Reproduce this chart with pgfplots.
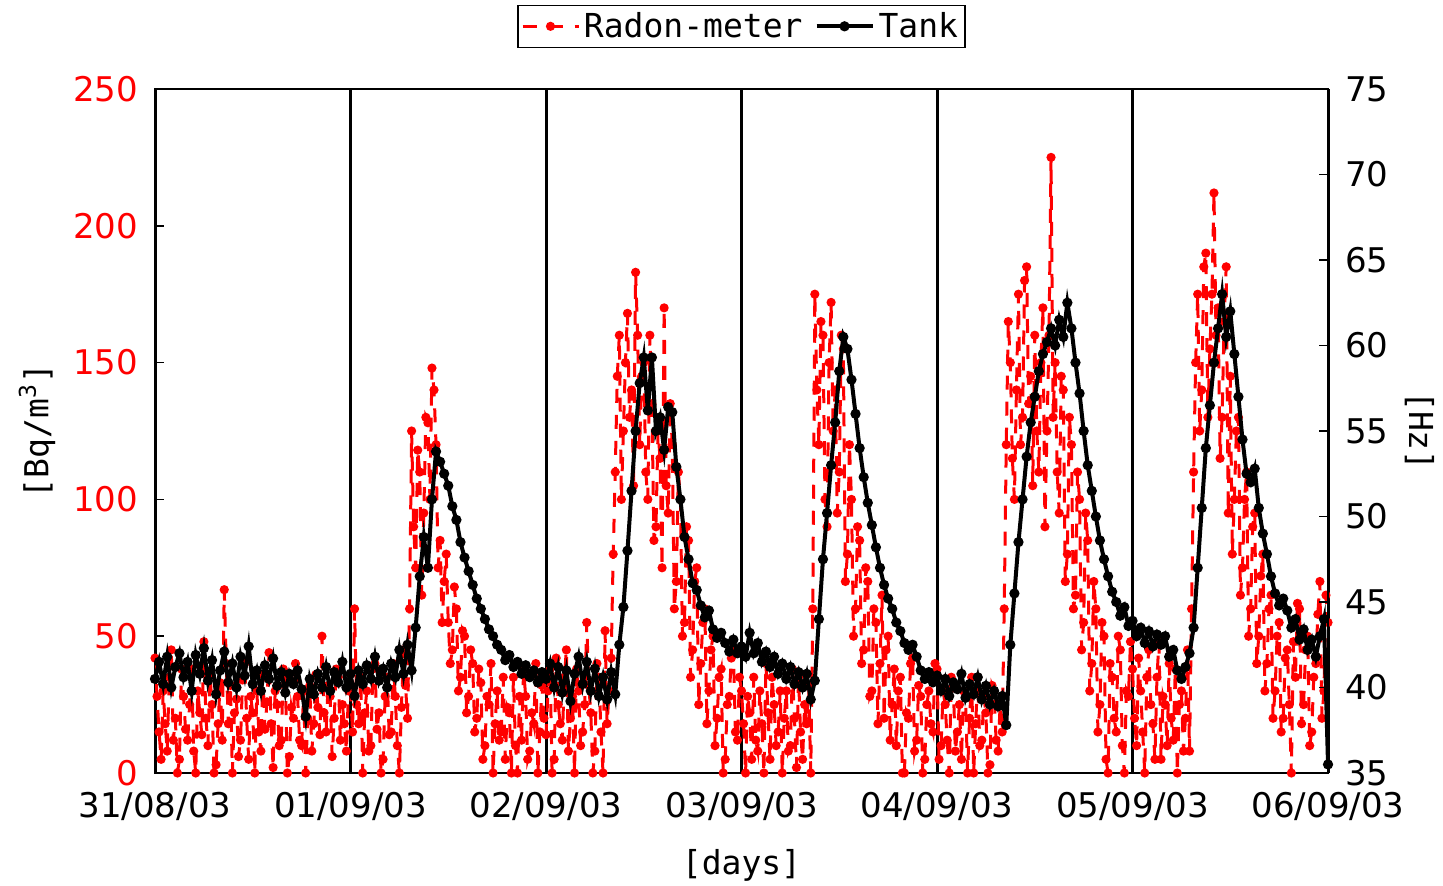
\documentclass[border=0pt]{standalone}
\usepackage{pgfplots}
\pgfplotsset{compat=1.18}
\usepackage{fontspec}
\setmainfont{DejaVu Sans}
\newfontfamily\monofont{DejaVu Sans Mono}
\begin{document}
\begin{tikzpicture}
\pgfplotsset{
  base/.style={scale only axis, width=586.5pt, height=342pt, xmin=0, xmax=144,
    /pgf/number format/assume math mode=true,
    tick label style={font=\fontsize{17}{20}\selectfont},
    label style={font=\monofont\fontsize{16.5}{20}\selectfont},
    axis line style={line width=0.8pt},
    major tick style={line width=0.8pt, black},
  },
  radonstyle/.style={red, line width=1.5pt, dash pattern=on 7pt off 6pt, mark=*, mark size=1.5pt, mark options={solid}},
}
\begin{axis}[base, ymin=0, ymax=250, ytick={0,50,...,250}, ytick pos=left,
  yticklabel style={red, xshift=-5pt},
  xtick={0,24,...,144},
  xticklabels={31/08/03,01/09/03,02/09/03,03/09/03,04/09/03,05/09/03,06/09/03},
  xticklabel style={yshift=-6pt},
  xtick style={draw=none},
  xmajorgrids, major x grid style={black, line width=1.5pt},
  xlabel={[days]}, xlabel style={at={(axis description cs:0.5,-0.1345)}, anchor=center},
  ylabel={[Bq/m\textsuperscript{3}]}, ylabel style={at={(axis description cs:-0.1006,0.5)}, anchor=center},
]
\addplot[radonstyle] coordinates {
(0,42)(0.25,28)(0.5,15)(0.75,5)(1,30)(1.25,18)(1.5,8)(1.75,35)(2,45)(2.25,12)(2.5,20)(2.75,0)(3,5)(3.25,38)(3.5,28)(3.75,16)
(4,12)(4.25,25)(4.5,38)(4.75,8)(5,0)(5.25,30)(5.5,22)(5.75,14)(6,48)(6.25,20)(6.5,10)(6.75,36)(7,25)(7.25,0)(7.5,3)(7.75,18)
(8,33)(8.25,12)(8.5,67)(8.75,40)(9,18)(9.25,32)(9.5,0)(9.75,22)(10,27)(10.25,6)(10.5,12)(10.75,34)(11,40)(11.25,20)(11.5,5)(11.75,28)
(12,22)(12.25,0)(12.5,30)(12.75,15)(13,8)(13.25,36)(13.5,16)(13.75,26)(14,44)(14.25,18)(14.5,2)(14.75,30)(15,25)(15.25,10)(15.5,12)(15.75,38)
(16,35)(16.25,0)(16.5,6)(16.75,24)(17,20)(17.25,40)(17.5,28)(17.75,12)(18,10)(18.25,30)(18.5,0)(18.75,20)(19,32)(19.25,8)(19.5,18)(19.75,36)
(20,24)(20.25,14)(20.5,50)(20.75,22)(21,15)(21.25,32)(21.5,28)(21.75,6)(22,20)(22.25,38)(22.5,35)(22.75,12)(23,25)(23.25,18)(23.5,8)(23.75,30)
(24,30)(24.25,15)(24.5,60)(24.75,25)(25,18)(25.25,35)(25.5,0)(25.75,22)(26,30)(26.25,8)(26.5,10)(26.75,38)(27,40)(27.25,16)(27.5,22)(27.75,0)
(28,5)(28.25,28)(28.5,35)(28.75,14)(29,15)(29.25,40)(29.5,28)(29.75,10)(30,0)(30.25,24)(30.5,45)(30.75,32)(31,20)(31.25,60)(31.5,125)(31.75,90)
(32,75)(32.25,118)(32.5,110)(32.75,65)(33,95)(33.25,130)(33.5,128)(33.75,100)(34,148)(34.25,140)(34.5,120)(34.75,75)(35,85)(35.25,55)(35.5,70)(35.75,80)
(36,55)(36.25,40)(36.5,45)(36.75,68)(37,60)(37.25,30)(37.5,35)(37.75,52)(38,50)(38.25,22)(38.5,28)(38.75,45)(39,40)(39.25,15)(39.5,20)(39.75,38)
(40,33)(40.25,5)(40.5,10)(40.75,28)(41,25)(41.25,40)(41.5,0)(41.75,18)(42,30)(42.25,12)(42.5,15)(42.75,35)(43,5)(43.25,24)(43.5,22)(43.75,0)
(44,35)(44.25,10)(44.5,0)(44.75,28)(45,12)(45.25,38)(45.5,28)(45.75,5)(46,8)(46.25,22)(46.5,18)(46.75,40)(47,0)(47.25,15)(47.5,32)(47.75,20)
(48,14)(48.25,30)(48.5,38)(48.75,0)(49,5)(49.25,42)(49.5,25)(49.75,18)(50,12)(50.25,35)(50.5,45)(50.75,8)(51,20)(51.25,28)(51.5,0)(51.75,38)
(52,30)(52.25,10)(52.5,15)(52.75,25)(53,55)(53.25,32)(53.5,22)(53.75,0)(54,8)(54.25,40)(54.5,35)(54.75,15)(55,0)(55.25,52)(55.5,18)(55.75,30)
(56,42)(56.25,80)(56.5,110)(56.75,145)(57,160)(57.25,100)(57.5,125)(57.75,150)(58,168)(58.25,130)(58.5,140)(58.75,105)(59,183)(59.25,160)(59.5,120)(59.75,145)
(60,150)(60.25,110)(60.5,100)(60.75,160)(61,135)(61.25,85)(61.5,90)(61.75,125)(62,115)(62.25,75)(62.5,170)(62.75,105)(63,95)(63.25,135)(63.5,120)(63.75,60)
(64,70)(64.25,110)(64.5,100)(64.75,50)(65,55)(65.25,90)(65.5,85)(65.75,35)(66,45)(66.25,70)(66.5,75)(66.75,25)(67,40)(67.25,55)(67.5,60)(67.75,18)
(68,30)(68.25,45)(68.5,50)(68.75,10)(69,20)(69.25,35)(69.5,38)(69.75,0)(70,5)(70.25,25)(70.5,28)(70.75,42)(71,45)(71.25,15)(71.5,12)(71.75,35)
(72,30)(72.25,18)(72.5,0)(72.75,28)(73,22)(73.25,5)(73.5,35)(73.75,12)(74,8)(74.25,30)(74.5,18)(74.75,0)(75,40)(75.25,22)(75.5,5)(75.75,35)
(76,25)(76.25,10)(76.5,15)(76.75,30)(77,0)(77.25,20)(77.5,30)(77.75,8)(78,10)(78.25,38)(78.5,20)(78.75,2)(79,35)(79.25,15)(79.5,5)(79.75,25)
(80,18)(80.25,32)(80.5,0)(80.75,60)(81,175)(81.25,140)(81.5,120)(81.75,165)(82,160)(82.25,100)(82.5,90)(82.75,150)(83,172)(83.25,125)(83.5,140)(83.75,95)
(84,110)(84.25,160)(84.5,155)(84.75,70)(85,80)(85.25,120)(85.5,100)(85.75,50)(86,60)(86.25,90)(86.5,85)(86.75,40)(87,45)(87.25,75)(87.5,70)(87.75,28)
(88,30)(88.25,60)(88.5,55)(88.75,18)(89,40)(89.25,65)(89.5,20)(89.75,45)(90,50)(90.25,12)(90.5,25)(90.75,38)(91,10)(91.25,30)(91.5,35)(91.75,0)
(92,0)(92.25,22)(92.5,20)(92.75,40)(93,42)(93.25,8)(93.5,12)(93.75,32)(94,28)(94.25,0)(94.5,5)(94.75,25)(95,30)(95.25,18)(95.5,15)(95.75,40)
(96,38)(96.25,5)(96.5,10)(96.75,30)(97,25)(97.25,12)(97.5,0)(97.75,35)(98,32)(98.25,8)(98.5,15)(98.75,25)(99,5)(99.25,30)(99.5,28)(99.75,0)
(100,20)(100.25,35)(100.5,0)(100.75,18)(101,35)(101.25,10)(101.5,12)(101.75,28)(102,22)(102.25,0)(102.5,3)(102.75,32)(103,30)(103.25,12)(103.5,8)(103.75,25)
(104,15)(104.25,60)(104.5,120)(104.75,165)(105,150)(105.25,115)(105.5,100)(105.75,140)(106,175)(106.25,120)(106.5,130)(106.75,180)(107,185)(107.25,135)(107.5,145)(107.75,105)
(108,160)(108.25,125)(108.5,110)(108.75,150)(109,170)(109.25,90)(109.5,125)(109.75,160)(110,225)(110.25,130)(110.5,150)(110.75,110)(111,95)(111.25,145)(111.5,140)(111.75,70)
(112,80)(112.25,130)(112.5,120)(112.75,60)(113,65)(113.25,110)(113.5,100)(113.75,45)(114,55)(114.25,95)(114.5,85)(114.75,30)(115,40)(115.25,70)(115.5,60)(115.75,15)
(116,25)(116.25,55)(116.5,50)(116.75,5)(117,0)(117.25,40)(117.5,35)(117.75,20)(118,15)(118.25,50)(118.5,45)(118.75,10)(119,0)(119.25,30)(119.5,28)(119.75,48)
(120,38)(120.25,20)(120.5,10)(120.75,42)(121,30)(121.25,15)(121.5,0)(121.75,35)(122,45)(122.25,25)(122.5,18)(122.75,5)(123,35)(123.25,48)(123.5,5)(123.75,28)
(124,25)(124.25,10)(124.5,40)(124.75,20)(125,12)(125.25,38)(125.5,0)(125.75,25)(126,30)(126.25,8)(126.5,20)(126.75,45)(127,8)(127.25,60)(127.5,110)(127.75,150)
(128,175)(128.25,125)(128.5,140)(128.75,185)(129,190)(129.25,130)(129.5,155)(129.75,175)(130,212)(130.25,160)(130.5,170)(130.75,115)(131,130)(131.25,165)(131.5,185)(131.75,95)
(132,145)(132.25,80)(132.5,100)(132.75,125)(133,130)(133.25,65)(133.5,75)(133.75,100)(134,110)(134.25,50)(134.5,60)(134.75,90)(135,95)(135.25,40)(135.5,50)(135.75,72)
(136,80)(136.25,30)(136.5,40)(136.75,60)(137,65)(137.25,20)(137.5,30)(137.75,50)(138,55)(138.25,15)(138.5,20)(138.75,42)(139,45)(139.25,25)(139.5,0)(139.75,48)
(140,35)(140.25,62)(140.5,60)(140.75,18)(141,25)(141.25,45)(141.5,50)(141.75,10)(142,15)(142.25,35)(142.5,40)(142.75,58)(143,70)(143.25,20)(143.5,30)(143.75,65)(144,55)
};
\end{axis}
\begin{axis}[base, axis x line=none, axis y line*=right, ymin=35, ymax=75,
  ytick={35,40,...,75}, tick align=inside, clip mode=individual,
  yticklabel style={xshift=5pt},
  legend style={at={(axis description cs:0.5,1.06)}, anchor=south, legend columns=2,
    font=\monofont\fontsize{16.5}{20}\selectfont, draw=black, line width=0.6pt, inner sep=1.5pt,
    /tikz/every even column/.append style={column sep=4pt}},
  legend image code/.code={\draw[mark repeat=2,mark phase=2] plot coordinates {(0pt,0pt) (14pt,0pt) (28pt,0pt)};},
]
\addlegendimage{radonstyle}
\addlegendentry{Radon-meter}
\addplot[black, line width=2pt, mark=*, mark size=1.5pt] coordinates {
(0,40.5)(0.5,41.5)(1,40.2)(1.5,41.8)(2,40.0)(2.5,41.2)(3,42.0)(3.5,40.6)(4,41.5)(4.5,39.8)(5,41.9)(5.5,40.8)(6,42.3)(6.5,40.4)(7,41.6)(7.5,39.6)(8,41.0)(8.5,42.1)(9,40.3)(9.5,41.4)(10,40.0)(10.5,41.8)(11,40.7)(11.5,42.4)(12,40.2)(12.5,41.0)(13,39.8)(13.5,41.3)(14,40.5)(14.5,41.7)(15,40.1)(15.5,40.9)(16,39.7)(16.5,40.8)(17,40.2)(17.5,41.0)(18,39.9)(18.5,38.3)(19,40.5)(19.5,39.6)(20,40.8)(20.5,40.0)(21,41.2)(21.5,39.8)(22,40.9)(22.5,40.3)(23,41.5)(23.5,40.0)(24,40.8)
(24.5,39.5)(25,41.0)(25.5,40.2)(26,41.3)(26.5,40.5)(27,41.8)(27.5,40.4)(28,41.1)(28.5,40.0)(29,41.4)(29.5,40.6)(30,42.2)(30.5,40.8)(31,42.5)(31.5,41.0)(32,43.5)(32.5,46.5)(33,48.8)(33.5,47.0)(34,51.0)(34.5,53.8)(35,53.2)(35.5,52.5)(36,51.8)(36.5,50.6)(37,49.8)(37.5,48.5)(38,47.6)(38.5,46.8)(39,46.0)(39.5,45.2)(40,44.6)(40.5,44.0)(41,43.4)(41.5,43.0)(42,42.5)(42.5,42.2)(43,41.6)(43.5,41.9)(44,41.2)(44.5,41.5)(45,40.8)(45.5,41.3)(46,40.6)(46.5,41.0)(47,40.3)(47.5,40.9)(48,40.5)
(48.5,41.4)(49,40.0)(49.5,41.2)(50,39.7)(50.5,41.0)(51,39.2)(51.5,40.8)(52,41.8)(52.5,40.2)(53,41.5)(53.5,39.8)(54,41.1)(54.5,39.5)(55,40.6)(55.5,39.3)(56,40.9)(56.5,39.6)(57,42.5)(57.5,44.7)(58,48.0)(58.5,51.5)(59,55.0)(59.5,57.8)(60,59.3)(60.5,56.2)(61,59.3)(61.5,55.0)(62,55.8)(62.5,53.9)(63,56.4)(63.5,56.1)(64,52.9)(64.5,51.0)(65,48.8)(65.5,47.5)(66,46.1)(66.5,45.7)(67,44.8)(67.5,44.1)(68,44.5)(68.5,43.4)(69,42.9)(69.5,43.2)(70,42.6)(70.5,42.1)(71,42.8)(71.5,42.0)(72,42.4)
(72.5,41.8)(73,43.2)(73.5,42.0)(74,42.6)(74.5,41.5)(75,42.1)(75.5,41.2)(76,41.8)(76.5,40.8)(77,41.4)(77.5,40.5)(78,41.2)(78.5,40.2)(79,40.9)(79.5,40.0)(80,40.8)(80.5,39.3)(81,40.4)(81.5,44.0)(82,47.5)(82.5,50.2)(83,53.0)(83.5,55.5)(84,58.5)(84.5,60.5)(85,59.8)(85.5,58.0)(86,56.0)(86.5,54.0)(87,52.3)(87.5,50.8)(88,49.5)(88.5,48.2)(89,47.0)(89.5,46.0)(90,45.2)(90.5,44.6)(91,43.8)(91.5,43.3)(92,42.6)(92.5,42.2)(93,42.5)(93.5,41.8)(94,41.0)(94.5,40.5)(95,40.9)(95.5,40.3)(96,40.7)
(96.5,39.8)(97,40.5)(97.5,39.5)(98,40.3)(98.5,39.9)(99,40.8)(99.5,39.4)(100,40.2)(100.5,39.6)(101,40.6)(101.5,39.3)(102,40.1)(102.5,39.0)(103,39.8)(103.5,38.9)(104,39.5)(104.5,37.8)(105,42.5)(105.5,45.5)(106,48.5)(106.5,51.0)(107,53.5)(107.5,55.5)(108,57.0)(108.5,58.5)(109,59.5)(109.5,60.2)(110,61.0)(110.5,60.0)(111,61.5)(111.5,60.5)(112,62.5)(112.5,61.0)(113,59.0)(113.5,57.2)(114,55.0)(114.5,53.0)(115,51.5)(115.5,50.0)(116,48.6)(116.5,47.5)(117,46.5)(117.5,45.6)(118,45.0)(118.5,44.2)(119,44.7)(119.5,43.6)(120,43.9)
(120.5,43.0)(121,43.5)(121.5,42.6)(122,43.3)(122.5,42.4)(123,43.1)(123.5,42.5)(124,43.0)(124.5,41.8)(125,42.2)(125.5,41.0)(126,40.5)(126.5,41.2)(127,42.0)(127.5,43.5)(128,47.0)(128.5,50.5)(129,54.0)(129.5,56.5)(130,59.0)(130.5,61.0)(131,63.0)(131.5,60.5)(132,62.0)(132.5,59.5)(133,57.0)(133.5,54.5)(134,52.5)(134.5,52.0)(135,52.8)(135.5,50.5)(136,49.0)(136.5,47.8)(137,46.5)(137.5,45.5)(138,44.8)(138.5,45.2)(139,44.5)(139.5,43.5)(140,44.0)(140.5,42.8)(141,43.4)(141.5,42.2)(142,42.8)(142.5,41.8)(143,43.0)(143.5,44.0)(144,35.5)
};
\addlegendentry{Tank}
\node[rotate=-90, anchor=center, font=\monofont\fontsize{16.5}{20}\selectfont] at (axis description cs:1.078,0.5) {[Hz]};
\end{axis}
\pgfresetboundingbox
\path (-77.5pt,-56.5pt) rectangle (644pt,386.5pt);
\end{tikzpicture}
\end{document}
